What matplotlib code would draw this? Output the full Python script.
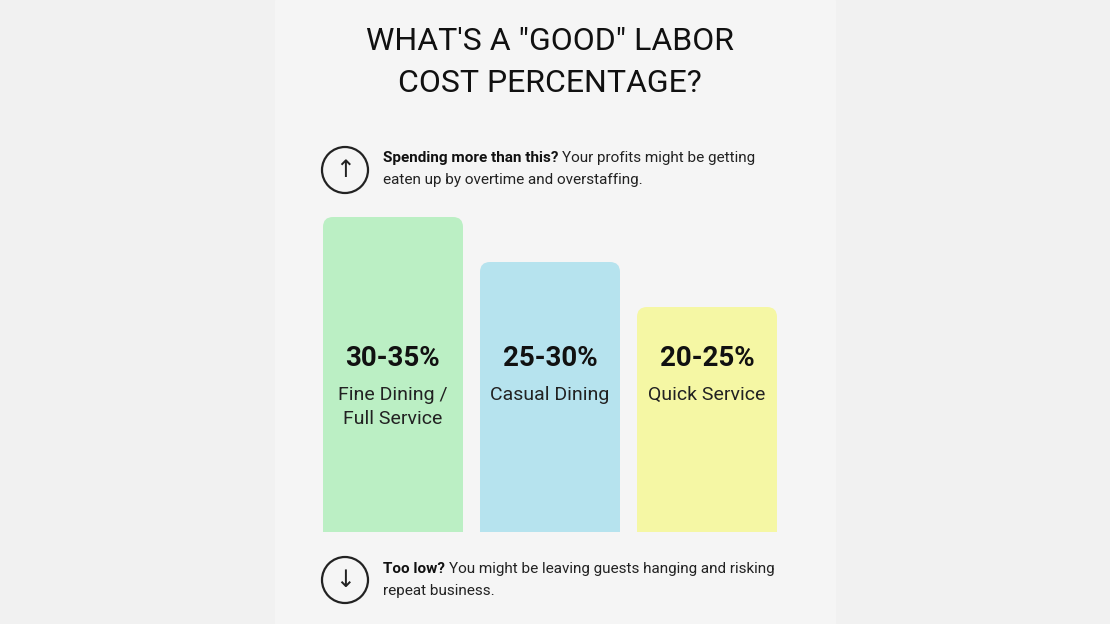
import matplotlib.pyplot as plt
from matplotlib.patches import FancyBboxPatch, Circle, Rectangle

percent_labels = ["30-35%", "25-30%", "20-25%"]
segments = ["Fine Dining /\nFull Service", "Casual Dining", "Quick Service"]
upper_bounds = [35, 30, 25]
bar_colors = ["#bbefc4", "#b6e3ee", "#f5f7a4"]

W, H = 1110, 624
plt.rcParams['font.family'] = ['Roboto', 'DejaVu Sans']
fig = plt.figure(figsize=(W / 100, H / 100), dpi=100, facecolor="#f1f1f1")

# overlay axes in pixel coordinates for the decoration
bg = fig.add_axes([0, 0, 1, 1])
bg.set_xlim(0, W)
bg.set_ylim(H, 0)
bg.axis("off")
bg.add_patch(Rectangle((275, 0), 560, H, color="#f5f5f5", zorder=0))

bg.text(550, 42, "WHAT'S A \"GOOD\" LABOR", ha="center", va="center",
        fontsize=23, color="#111111")
bg.text(550, 84, "COST PERCENTAGE?", ha="center", va="center",
        fontsize=23, color="#111111")

for cy, arrow in [(170, "↑"), (580, "↓")]:
    bg.add_patch(Circle((345, cy), 23, fill=False, lw=1.6, ec="#222222"))
    bg.text(345, cy, arrow, ha="center", va="center", fontsize=17,
            color="#222222", family="DejaVu Sans")

def two_part(y, bold, rest):
    t = bg.text(383, y, bold, ha="left", va="center", fontsize=11,
                fontweight="bold", color="#111111")
    fig.canvas.draw()
    bb = t.get_window_extent()
    x = bg.transData.inverted().transform((bb.x1, 0))[0]
    bg.text(x + 4, y, rest, ha="left", va="center", fontsize=11, color="#222222")

two_part(158, "Spending more than this?", "Your profits might be getting")
bg.text(383, 180, "eaten up by overtime and overstaffing.", ha="left", va="center",
        fontsize=11, color="#222222")
two_part(569, "Too low?", "You might be leaving guests hanging and risking")
bg.text(383, 591, "repeat business.", ha="left", va="center", fontsize=11,
        color="#222222")

# bar axes: 157 px per category, 9 px per percentage point, baseline at y=532
ax = fig.add_axes([314.5 / W, (H - 532) / H, 471 / W, 324 / H])
ax.set_xlim(-0.5, 2.5)
ax.set_ylim(0, 36)
ax.axis("off")
bw = 140 / 157
rx = 10 / 157
for i, (h, c) in enumerate(zip(upper_bounds, bar_colors)):
    ax.add_patch(FancyBboxPatch((i - bw / 2, -3), bw, h + 3,
                                boxstyle=f"round,pad=0,rounding_size={rx}",
                                mutation_aspect=(10 / 9) / rx, fc=c, ec="none",
                                clip_on=True))

# labels belong to the bar axes so they draw on top of the bars
for i, (p, s) in enumerate(zip(percent_labels, segments)):
    ax.text(393 + 157 * i, 358, p, ha="center", va="center", fontsize=20,
            fontweight="bold", color="#111111", transform=bg.transData, clip_on=False)
    ax.text(393 + 157 * i, 386, s, ha="center", va="top", fontsize=14,
            color="#222222", linespacing=1.4, transform=bg.transData, clip_on=False)

fig.savefig("out.png", dpi=100, facecolor=fig.get_facecolor())
